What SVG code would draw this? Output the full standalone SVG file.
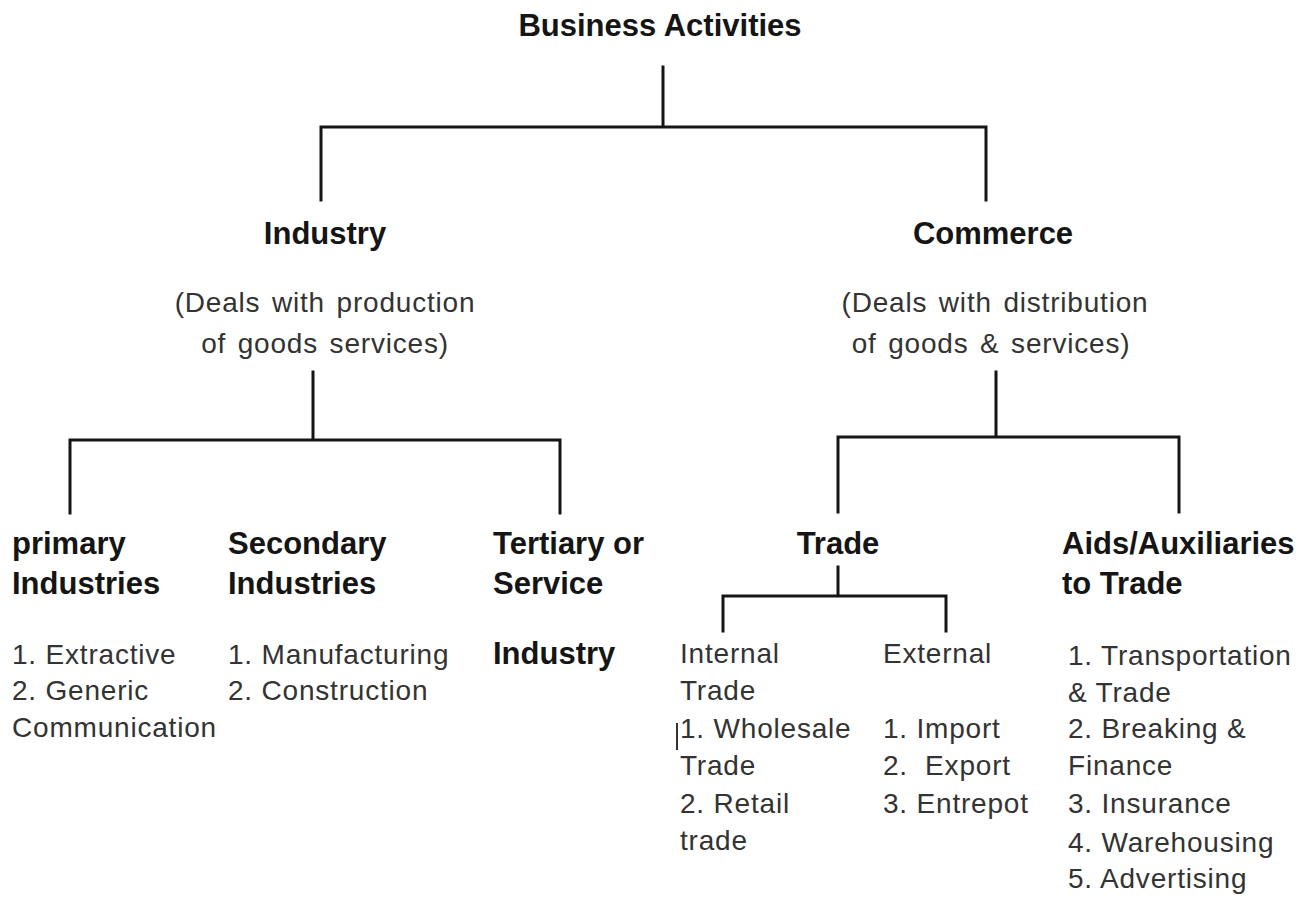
<svg xmlns="http://www.w3.org/2000/svg" width="1313" height="899" viewBox="0 0 1313 899">
<style>
.b{font-family:"Liberation Sans",Arial,sans-serif;font-weight:bold;font-size:31px;fill:#151515}
.r{font-family:"Liberation Sans",Arial,sans-serif;font-size:28px;fill:#333;letter-spacing:0.8px}
.c{text-anchor:middle}
.ln{stroke:#151515;stroke-width:3;fill:none;stroke-linecap:square}
</style>
<rect width="1313" height="899" fill="#fff"/>
<g id="connectors" class="ln">
<path d="M663 67V127M321 127H986M321 127V200M986 127V200"/>
<path d="M313 372V440M70 440H560M70 440V513M560 440V513"/>
<path d="M996 372V437M838 437H1179M838 437V512M1179 437V512"/>
<path d="M838 567V596M723 596H946M723 596V631M946 596V631"/>
</g>
<g id="business-activities"><text class="b c" x="660" y="36">Business Activities</text></g>
<g id="industry">
<text class="b c" x="325" y="244">Industry</text>
<text class="r c" x="325" y="312" style="word-spacing:3px">(Deals with production</text>
<text class="r c" x="325" y="353" style="word-spacing:3px">of goods services)</text>
</g>
<g id="commerce">
<text class="b c" x="993" y="244">Commerce</text>
<text class="r c" x="995" y="312" style="word-spacing:3px">(Deals with distribution</text>
<text class="r c" x="991" y="353" style="word-spacing:3px">of goods &amp; services)</text>
</g>
<g id="primary">
<text class="b" x="12" y="554">primary</text>
<text class="b" x="12" y="594">Industries</text>
<text class="r" x="12" y="664">1. Extractive</text>
<text class="r" x="12" y="700">2. Generic</text>
<text class="r" x="12" y="737">Communication</text>
</g>
<g id="secondary">
<text class="b" x="228" y="554">Secondary</text>
<text class="b" x="228" y="594">Industries</text>
<text class="r" x="228" y="664">1. Manufacturing</text>
<text class="r" x="228" y="700">2. Construction</text>
</g>
<g id="tertiary">
<text class="b" x="493" y="554">Tertiary or</text>
<text class="b" x="493" y="594">Service</text>
<text class="b" x="493" y="664">Industry</text>
</g>
<g id="trade"><text class="b c" x="838" y="554">Trade</text></g>
<g id="internal-trade">
<text class="r" x="680" y="663">Internal</text>
<text class="r" x="680" y="700">Trade</text>
<line x1="677" y1="723" x2="677" y2="750" stroke="#333" stroke-width="2"/>
<text class="r" x="680" y="738">1. Wholesale</text>
<text class="r" x="680" y="775">Trade</text>
<text class="r" x="680" y="813">2. Retail</text>
<text class="r" x="680" y="850">trade</text>
</g>
<g id="external-trade">
<text class="r" x="883" y="663">External</text>
<text class="r" x="883" y="738">1. Import</text>
<text class="r" x="883" y="775" xml:space="preserve">2.  Export</text>
<text class="r" x="883" y="813">3. Entrepot</text>
</g>
<g id="aids">
<text class="b" x="1062" y="554">Aids/Auxiliaries</text>
<text class="b" x="1062" y="594">to Trade</text>
<text class="r" x="1068" y="665">1. Transportation</text>
<text class="r" x="1068" y="702">&amp; Trade</text>
<text class="r" x="1068" y="738">2. Breaking &amp;</text>
<text class="r" x="1068" y="775">Finance</text>
<text class="r" x="1068" y="813">3. Insurance</text>
<text class="r" x="1068" y="852">4. Warehousing</text>
<text class="r" x="1068" y="888">5. Advertising</text>
</g>
</svg>
